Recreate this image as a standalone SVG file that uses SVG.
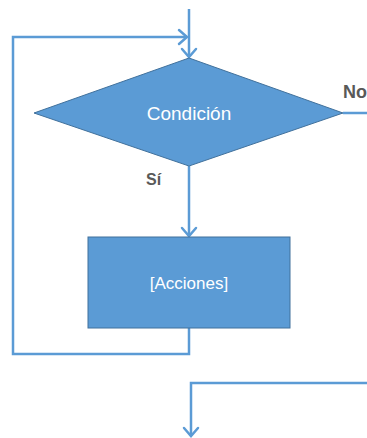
<svg xmlns="http://www.w3.org/2000/svg" width="367" height="438" viewBox="0 0 367 438">
<defs>
<style>
.c{fill:none;stroke:#5B9BD5;stroke-width:2.5;stroke-linejoin:miter}
.ah{fill:none;stroke:#5B9BD5;stroke-width:2.5;stroke-linecap:round}
.n{fill:#5B9BD5;stroke:#41719C;stroke-width:1}
.t{fill:#FFFFFF;font-family:"Liberation Sans",Arial,sans-serif;text-anchor:middle}
.l{fill:#595959;font-family:"Liberation Sans",Arial,sans-serif;font-weight:bold}
</style>
</defs>
<rect width="367" height="438" fill="#FFFFFF"/>
<g id="connectors">
<path class="c" d="M189,9 V57"/>
<path class="ah" d="M182,49 L189,57 L196,49"/>
<path class="c" d="M189,328 V354 H13 V37 H187"/>
<path class="ah" d="M179,30 L187,37 L179,44"/>
<path class="c" d="M343,113 H367"/>
<path class="c" d="M189,166 V236"/>
<path class="ah" d="M182,228 L189,236 L196,228"/>
<path class="c" d="M367,383 H191 V436"/>
<path class="ah" d="M184,428 L191,436 L198,428"/>
</g>
<g id="condicion">
<polygon class="n" points="189,58 343,113 189,166 34,113"/>
<text class="t" x="189" y="120" font-size="19">Condición</text>
</g>
<g id="acciones">
<rect class="n" x="88" y="237" width="202" height="91"/>
<text class="t" x="189" y="289" font-size="17">[Acciones]</text>
</g>
<g id="labels">
<text class="l" x="343" y="98" font-size="18">No</text>
<text class="l" x="146" y="185" font-size="16">Sí</text>
</g>
</svg>
